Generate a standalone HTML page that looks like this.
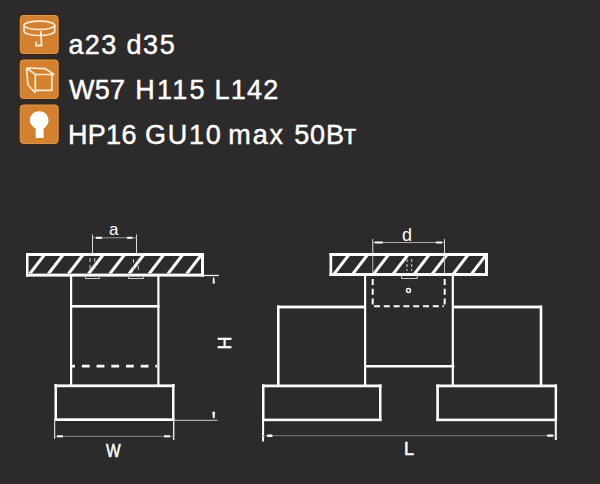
<!DOCTYPE html>
<html><head><meta charset="utf-8">
<style>
html,body{margin:0;padding:0;}
body{width:600px;height:484px;background:#2c2a2a;position:relative;overflow:hidden;font-family:"Liberation Sans",sans-serif;}
.t{position:absolute;color:#fff;font-size:27px;line-height:30px;white-space:nowrap;-webkit-text-stroke:0.45px #fff;}
svg{position:absolute;left:0;top:0;}
</style></head><body>
<div class="t" style="left:68.5px;top:30px;letter-spacing:1.3px">a23</div>
<div class="t" style="left:126.6px;top:30px;letter-spacing:1.5px">d35</div>
<div class="t" style="left:69px;top:75px;letter-spacing:0.2px">W57</div>
<div class="t" style="left:135.3px;top:75px;letter-spacing:2.2px">H115</div>
<div class="t" style="left:214.5px;top:75px;letter-spacing:1.2px">L142</div>
<div class="t" style="left:68px;top:120px;letter-spacing:0.3px">HP16</div>
<div class="t" style="left:144.9px;top:120px;letter-spacing:1.8px">GU10</div>
<div class="t" style="left:228.3px;top:120px;letter-spacing:1.9px">max</div>
<div class="t" style="left:294.3px;top:120px;letter-spacing:0.8px">50Вт</div>
<svg width="600" height="484" viewBox="0 0 600 484">
<defs>
<clipPath id="cl"><rect x="28" y="255.5" width="173" height="18"/></clipPath>
<clipPath id="cr"><rect x="332" y="255.5" width="153" height="17.5"/></clipPath>
</defs>
<!-- icons -->
<g>
<g fill="#3a2616">
<rect x="18.2" y="13.5" width="42" height="42" rx="4"/>
<rect x="18.2" y="58" width="42" height="42.4" rx="4"/>
<rect x="18.2" y="103" width="42" height="42.4" rx="4"/>
</g>
<g fill="#d3802f" stroke="#df9a52" stroke-width="1">
<rect x="20.25" y="15.5" width="37.9" height="37.9" rx="3"/>
<rect x="20.25" y="60" width="37.9" height="38.4" rx="3"/>
<rect x="20.25" y="105" width="37.9" height="38.4" rx="3"/>
</g>
<g fill="none" stroke="#fdebcf" stroke-width="1.7" stroke-linejoin="round">
<ellipse cx="39.4" cy="25.35" rx="15.3" ry="4.15"/>
<path d="M24.1 25.35 V31.3 A15.3 4.2 0 0 0 54.7 31.3 V25.35"/>
<path d="M40.8 31 L41.6 45.5 H36 V41.4" stroke-width="1.9"/>
<path d="M26.6 68 L45.2 68.7 L54 74.2 M26.6 68 L35.3 74.5 H54.3 M35.3 74.5 V93 M51.8 74.5 V90.4 H35.3 M26.6 68 L27.9 84.8 L35.3 93"/>
</g>
<path fill="#fff" d="M39.2 111.3 C44.6 111.3 48.5 115.2 48.5 120.2 C48.5 124.2 46 126.7 43.6 128.7 V138 H35.7 V128.7 C33 126.7 29.9 124.2 29.9 120.2 C29.9 115.2 33.8 111.3 39.2 111.3 Z"/>
</g>
<!-- LEFT DRAWING -->
<g fill="#fff">
<!-- plate -->
<rect x="26" y="253" width="178" height="3"/>
<rect x="26" y="273.6" width="178" height="3"/>
<rect x="26" y="253" width="2.5" height="23.5"/>
<rect x="201" y="253" width="3" height="23.5"/>
<!-- body -->
<rect x="70" y="276" width="2.2" height="109"/>
<rect x="157.3" y="276" width="2.2" height="109"/>
<rect x="70" y="305" width="89.5" height="2.6"/>
<!-- base -->
<rect x="54.5" y="384.4" width="120" height="2.8"/>
<rect x="54.5" y="418.3" width="120" height="2.7"/>
<rect x="54.5" y="384" width="2.5" height="37"/>
<rect x="172" y="384" width="2.5" height="37"/>
</g>
<g clip-path="url(#cl)" stroke="#fff" stroke-width="3.0">
<line x1="29.69" y1="274" x2="44.21" y2="255"/>
<line x1="48.34" y1="274" x2="62.86" y2="255"/>
<line x1="68.34" y1="274" x2="82.86" y2="255"/>
<line x1="88.44" y1="274" x2="102.96" y2="255"/>
<line x1="109.74" y1="274" x2="124.26" y2="255"/>
<line x1="128.99" y1="274" x2="143.51" y2="255"/>
<line x1="148.99" y1="274" x2="163.51" y2="255"/>
<line x1="167.89" y1="274" x2="182.41" y2="255"/>
<line x1="186.64" y1="274" x2="201.16" y2="255"/>
</g>
<!-- dashed line -->
<line x1="72" y1="366.2" x2="157" y2="366.2" stroke="#fff" stroke-width="2.7" stroke-dasharray="7.8 6.9" stroke-dashoffset="4.8"/>
<!-- dims left -->
<g stroke="#ddd" stroke-width="1" fill="none">
<line x1="92.5" y1="234.4" x2="92.5" y2="253"/>
<line x1="136.5" y1="234.4" x2="136.5" y2="253"/>
<line x1="92.5" y1="237.8" x2="136.5" y2="237.8" stroke="#999"/>
<line x1="204" y1="275.5" x2="219" y2="275.5" stroke="#eee" stroke-width="1.3"/>
<line x1="174" y1="420.3" x2="217.5" y2="420.3" stroke="#ccc"/>
<line x1="54.6" y1="421" x2="54.6" y2="439" stroke="#ddd" stroke-width="1.2"/>
<line x1="173.7" y1="421" x2="173.7" y2="440" stroke="#eee" stroke-width="1.4"/>
<line x1="55.5" y1="436.3" x2="173.5" y2="436.3" stroke="#888"/>
<!-- dashed marks inside plate -->
<path d="M85.5 277 V278.5 H99.5 V277 M128.5 277 V278.5 H143.5 V277" stroke="#ccc"/>
<line x1="90" y1="258" x2="90" y2="272" stroke="#ccc" stroke-dasharray="4 3"/><line x1="94.7" y1="258" x2="94.7" y2="272" stroke="#ccc" stroke-dasharray="4 3"/>
<line x1="133.5" y1="259" x2="133.5" y2="272" stroke="#ccc" stroke-dasharray="4 3"/><line x1="138.3" y1="259" x2="138.3" y2="272" stroke="#ccc" stroke-dasharray="4 3"/>
</g>
<g fill="#fff">
<rect x="96" y="236.8" width="6" height="2"/>
<rect x="127" y="236.8" width="5.5" height="2"/>
<rect x="57" y="435.3" width="6" height="2"/>
<rect x="164" y="435.3" width="6" height="2"/>
<path d="M213 277.4 L214.3 277.4 L214.9 283.6 L212.6 283.6 Z"/>
<path d="M212.2 411.8 L215.1 411.8 L214.6 418.2 L213 418.2 Z"/>
</g>
<!-- RIGHT DRAWING -->
<g fill="#fff">
<rect x="329.5" y="253" width="158.5" height="3"/>
<rect x="329.5" y="273" width="158.5" height="3"/>
<rect x="329.5" y="253" width="2.7" height="23"/>
<rect x="485" y="253" width="3" height="23"/>
<!-- center body -->
<rect x="364" y="276" width="2.2" height="110"/>
<rect x="451.7" y="276" width="2.2" height="110"/>
<rect x="364" y="365" width="90.3" height="2.5"/>
<!-- side boxes -->
<rect x="277" y="305.6" width="89" height="2.8"/>
<rect x="277" y="305.5" width="2.6" height="80"/>
<rect x="452" y="305.6" width="90" height="2.8"/>
<rect x="539.7" y="305.6" width="2.6" height="80"/>
<!-- bases -->
<rect x="262" y="384.5" width="119.5" height="2.8"/>
<rect x="262" y="418.6" width="119.5" height="2.6"/>
<rect x="262" y="384.5" width="2.5" height="36.3"/>
<rect x="379" y="384.5" width="2.5" height="36.3"/>
<rect x="436.3" y="384.5" width="120.7" height="2.8"/>
<rect x="436.3" y="418.6" width="120.7" height="2.6"/>
<rect x="436.3" y="384.5" width="2.6" height="36.3"/>
<rect x="554.6" y="384.5" width="2.5" height="36.3"/>
</g>
<g clip-path="url(#cr)" stroke="#fff" stroke-width="3.0">
<line x1="334.09" y1="274" x2="348.61" y2="255"/>
<line x1="352.74" y1="274" x2="367.26" y2="255"/>
<line x1="373.69" y1="274" x2="388.21" y2="255"/>
<line x1="393.14" y1="274" x2="407.66" y2="255"/>
<line x1="414.39" y1="274" x2="428.91" y2="255"/>
<line x1="432.24" y1="274" x2="446.76" y2="255"/>
<line x1="453.29" y1="274" x2="467.81" y2="255"/>
<line x1="471.49" y1="274" x2="486.01" y2="255"/>
</g>
<g stroke="#ddd" stroke-width="1" fill="none">
<line x1="372.8" y1="239" x2="372.8" y2="253"/>
<line x1="444.5" y1="239" x2="444.5" y2="253"/>
<line x1="372.8" y1="242.5" x2="444.5" y2="242.5" stroke="#aaa"/>
<line x1="372.8" y1="256" x2="372.8" y2="273" stroke="#bbb"/>
<line x1="444.5" y1="256" x2="444.5" y2="273" stroke="#bbb"/>
<line x1="263.1" y1="421" x2="263.1" y2="441.5" stroke="#fff" stroke-width="2"/>
<line x1="555.8" y1="421" x2="555.8" y2="440" stroke="#fff" stroke-width="2"/>
<line x1="263" y1="435.7" x2="555.5" y2="435.7" stroke="#777"/>
<path d="M401.5 276 V278.5 H417.3 V276" stroke="#ccc"/>
<line x1="407" y1="259" x2="407" y2="271" stroke="#ccc" stroke-dasharray="3 2"/>
<line x1="411.7" y1="259" x2="411.7" y2="271" stroke="#ccc" stroke-dasharray="3 2"/>
<circle cx="408.5" cy="290.5" r="2" stroke="#fff" stroke-width="1.4"/>
</g>
<g stroke="#fff" stroke-width="2" fill="none" stroke-dasharray="6 3.8">
<line x1="372.7" y1="279" x2="372.7" y2="306"/>
<line x1="444.7" y1="279" x2="444.7" y2="306"/>
<line x1="374" y1="306.2" x2="444" y2="306.2"/>
</g>
<g fill="#fff">
<rect x="375" y="241.5" width="8" height="2"/>
<rect x="436" y="241.5" width="6" height="2"/>
<rect x="267" y="434.6" width="5.5" height="2.4" rx="0.8"/>
<rect x="547" y="434.4" width="6.5" height="2.4" rx="1"/>
</g>
</svg>
<div style="position:absolute;left:0;top:0;width:600px;height:484px;font-family:'Liberation Sans';color:#fff">
<div style="position:absolute;left:109px;top:220px;font-size:17px;line-height:20px">a</div>
<div style="position:absolute;left:402px;top:224.5px;font-size:18px;line-height:20px">d</div>
<div style="position:absolute;left:106.3px;top:440.5px;font-size:18px;line-height:20px;-webkit-text-stroke:0.5px #fff;transform:scaleX(0.86);transform-origin:0 0">W</div>
<div style="position:absolute;left:404px;top:439px;font-size:18px;line-height:20px;-webkit-text-stroke:0.5px #fff">L</div>
<div style="position:absolute;left:218px;top:333px;font-size:18px;line-height:20px;-webkit-text-stroke:0.5px #fff;transform:rotate(-90deg);transform-origin:center">H</div>
</div>
</body></html>
